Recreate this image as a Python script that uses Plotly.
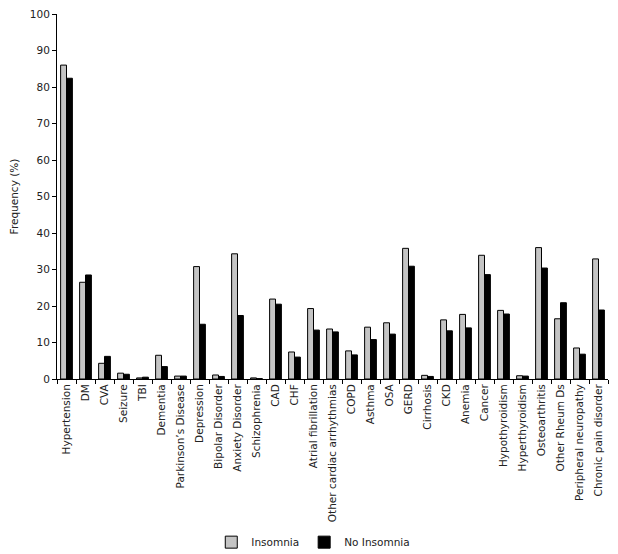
import plotly.graph_objects as go

categories = ["Hypertension", "DM", "CVA", "Seizure", "TBI", "Dementia",
              "Parkinson\u2019s Disease", "Depression", "Bipolar Disorder",
              "Anxiety Disorder", "Schizophrenia", "CAD", "CHF",
              "Atrial fibrillation", "Other cardiac arrhythmias", "COPD",
              "Asthma", "OSA", "GERD", "Cirrhosis", "CKD", "Anemia", "Cancer",
              "Hypothyroidism", "Hyperthyroidism", "Osteoarthritis",
              "Other Rheum Ds", "Peripheral neuropathy", "Chronic pain disorder"]

insomnia = [86.0, 26.5, 4.3, 1.6, 0.3, 6.5, 0.8, 30.8, 1.1, 34.3, 0.3, 21.9,
            7.4, 19.3, 13.7, 7.7, 14.2, 15.4, 35.8, 1.0, 16.2, 17.7, 33.9,
            18.8, 0.9, 36.0, 16.5, 8.5, 32.9]

no_insomnia = [82.4, 28.5, 6.2, 1.3, 0.5, 3.4, 0.8, 15.0, 0.7, 17.4, 0.1,
               20.5, 6.0, 13.4, 12.9, 6.6, 10.8, 12.3, 30.9, 0.7, 13.2, 14.0,
               28.6, 17.8, 0.8, 30.4, 20.9, 6.8, 18.9]

y_ticks = list(range(0, 101, 10))

fig = go.Figure()
fig.add_trace(go.Bar(x=categories, y=insomnia, name="Insomnia",
                     marker=dict(color="#c4c4c4", line=dict(color="#000000", width=1))))
fig.add_trace(go.Bar(x=categories, y=no_insomnia, name="No Insomnia",
                     marker=dict(color="#000000", line=dict(color="#000000", width=1))))

font_family = "DejaVu Sans, sans-serif"

fig.update_layout(
    width=610, height=546,
    paper_bgcolor="white", plot_bgcolor="white",
    barmode="group", bargap=0.38, bargroupgap=0.0,
    margin=dict(l=49, r=10, t=6, b=175, autoexpand=False),
    font=dict(family=font_family, size=11, color="#222222"),
    showlegend=True,
    legend=dict(orientation="h", x=0.28, xanchor="left", y=-0.447, yanchor="middle",
                font=dict(size=10.5, color="#222222"), itemwidth=30,
                traceorder="normal"),
    xaxis=dict(showline=True, linecolor="#000000", linewidth=1,
               ticks="outside", tickson="boundaries", ticklen=4,
               tickcolor="#000000", tickangle=-90, automargin=False,
               ticklabeloverflow="allow",
               tickfont=dict(size=10.5, color="#222222"),
               showgrid=False, zeroline=False),
    yaxis=dict(range=[0, 100], tickvals=y_ticks, showline=True,
               linecolor="#000000", linewidth=1, ticks="outside",
               ticklen=4, tickcolor="#000000", showgrid=False, automargin=False,
               ticklabeloverflow="allow",
               zeroline=False, tickfont=dict(size=10.5, color="#222222"),
               title=dict(text="Frequency (%)", font=dict(size=10.5, color="#222222"),
                          standoff=12)),
)

fig.write_html("out.html")
